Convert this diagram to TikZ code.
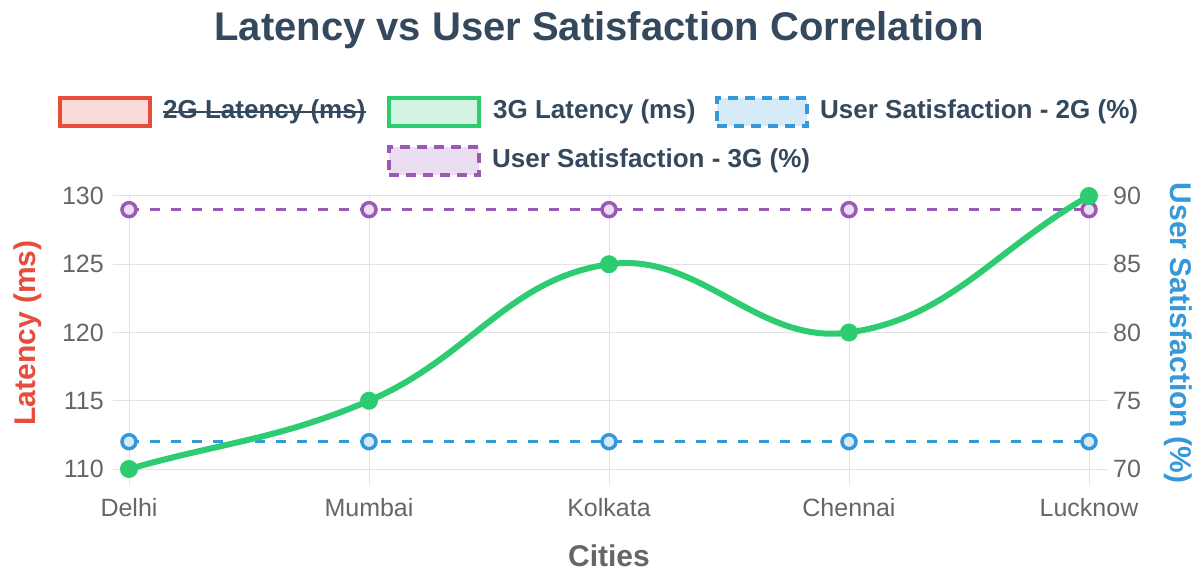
\documentclass[tikz,border=0pt]{standalone}
\usepackage{fontspec}
\setmainfont{Liberation Sans}
\definecolor{cred}{HTML}{E74C3C}
\definecolor{cgreen}{HTML}{2ECC71}
\definecolor{cblue}{HTML}{3498DB}
\definecolor{cpurple}{HTML}{9B59B6}
\definecolor{ctitle}{HTML}{34495E}
\definecolor{ctick}{HTML}{666666}
\definecolor{cgrid}{HTML}{E2E2E2}
\tikzset{
  gridline/.style={draw=cgrid, line width=1pt},
  ticklab/.style={inner sep=0pt, text=ctick, font=\fontsize{25}{30}\selectfont},
  axtitle/.style={inner sep=0pt, font=\bfseries\fontsize{30}{36}\selectfont},
  legtext/.style={inner sep=0pt, anchor=west, text=ctitle, font=\bfseries\fontsize{26}{31}\selectfont},
  legbox/.style={line width=4.5pt, minimum width=90pt, minimum height=28pt, inner sep=0pt},
  dashbox/.style={line width=3.5pt, dash pattern=on 10pt off 7pt, minimum width=90pt, minimum height=28pt, inner sep=0pt},
  greenline/.style={draw=cgreen, line width=6pt, line cap=round, line join=round},
  satline/.style={line width=3.5pt, dash pattern=on 10pt off 11pt},
  gpt/.style={circle, fill=cgreen, draw=cgreen, line width=3pt, minimum size=15pt, inner sep=0pt},
  ppt/.style={circle, fill=cpurple!20, draw=cpurple, line width=3.5pt, minimum size=14pt, inner sep=0pt},
  bpt/.style={circle, fill=cblue!20, draw=cblue, line width=3.5pt, minimum size=14pt, inner sep=0pt},
}
\begin{document}
\begin{tikzpicture}[x=1pt,y=-1pt]
\useasboundingbox (0,0) rectangle (1199,572);
\fill[white] (0,0) rectangle (1199,572);
% title
\node[inner sep=0pt, text=ctitle, font=\bfseries\fontsize{40}{48}\selectfont, anchor=base] (title) at (599,41) {Latency vs User Satisfaction Correlation};
% legend
\node[legbox, draw=cred, fill=cred!20] (lb1) at (105,112) {};
\node[legtext] (lt1) at (163,112) {2G Latency (ms)};
\draw[ctitle, line width=2pt] (lt1.west) -- (lt1.east);
\node[legbox, draw=cgreen, fill=cgreen!20] (lb2) at (434,112) {};
\node[legtext] (lt2) at (493,112) {3G Latency (ms)};
\node[dashbox, draw=cblue, fill=cblue!20] (lb3) at (762,112) {};
\node[legtext] (lt3) at (820,112) {User Satisfaction - 2G (\%)};
\node[dashbox, draw=cpurple, fill=cpurple!20] (lb4) at (434,161) {};
\node[legtext] (lt4) at (492,161) {User Satisfaction - 3G (\%)};
% grid
\foreach \yy in {196,264.25,332.5,400.75,469}{
  \draw[gridline] (113,\yy) -- (1107,\yy);
}
\foreach \xx in {129,369,609,849,1089}{
  \draw[gridline] (\xx,196) -- (\xx,485);
}
% left ticks
\node[ticklab, anchor=east] (l130) at (104,196) {130};
\node[ticklab, anchor=east] (l125) at (104,264.25) {125};
\node[ticklab, anchor=east] (l120) at (104,332.5) {120};
\node[ticklab, anchor=east] (l115) at (104,400.75) {115};
\node[ticklab, anchor=east] (l110) at (104,469) {110};
% right ticks
\node[ticklab, anchor=west] (r90) at (1113,196) {90};
\node[ticklab, anchor=west] (r85) at (1113,264.25) {85};
\node[ticklab, anchor=west] (r80) at (1113,332.5) {80};
\node[ticklab, anchor=west] (r75) at (1113,400.75) {75};
\node[ticklab, anchor=west] (r70) at (1113,469) {70};
% x labels
\node[ticklab] (c1) at (129,508) {Delhi};
\node[ticklab] (c2) at (369,508) {Mumbai};
\node[ticklab] (c3) at (609,508) {Kolkata};
\node[ticklab] (c4) at (849,508) {Chennai};
\node[ticklab] (c5) at (1089,508) {Lucknow};
% axis titles
\node[axtitle, text=ctick] (xt) at (609,556) {Cities};
\node[axtitle, text=cred, rotate=90] (yl) at (28,333) {Latency (ms)};
\node[axtitle, text=cblue, rotate=-90] (yr) at (1178,333) {User Satisfaction (\%)};
% purple dataset (3G satisfaction, 89)
\draw[satline, draw=cpurple] (129,209.65) -- (1089,209.65);
\foreach \xx [count=\i] in {129,369,609,849,1089}{
  \node[ppt] (p\i) at (\xx,209.65) {};
}
% blue dataset (2G satisfaction, 72)
\draw[satline, draw=cblue] (129,441.7) -- (1089,441.7);
\foreach \xx [count=\i] in {129,369,609,849,1089}{
  \node[bpt] (b\i) at (\xx,441.7) {};
}
% green dataset
\coordinate (g1c) at (129,469);
\coordinate (g2c) at (369,400.75);
\coordinate (g3c) at (609,264.25);
\coordinate (g4c) at (849,332.5);
\coordinate (g5c) at (1089,196);
\draw[greenline] (g1c) .. controls (225,441.7) and (277.85,439.63) .. (g2c)
  .. controls (469.85,357.73) and (508.15,278.59) .. (g3c)
  .. controls (700.15,251.29) and (757.85,345.46) .. (g4c)
  .. controls (949.85,318.16) and (993,250.6) .. (g5c);
\foreach \i in {1,...,5}{
  \node[gpt] (g\i) at (g\i c) {};
}
\end{tikzpicture}
\end{document}
